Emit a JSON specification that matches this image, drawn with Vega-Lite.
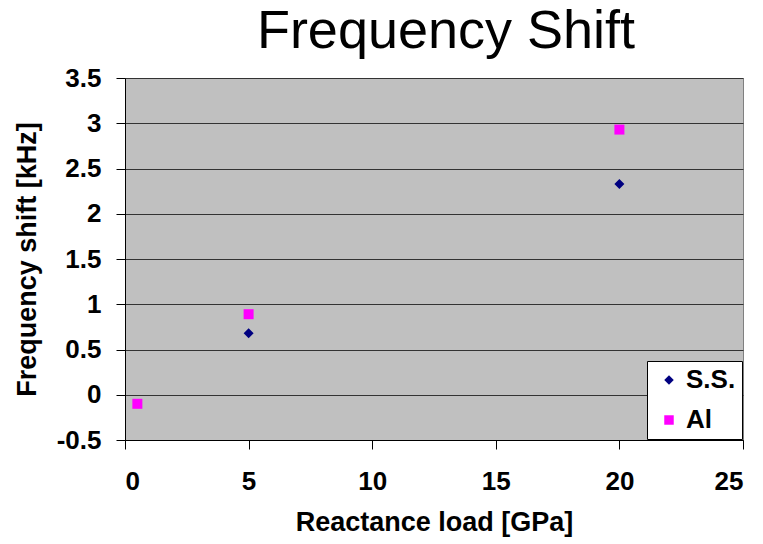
{
  "$schema": "https://vega.github.io/schema/vega-lite/v6.json",
  "width": 618,
  "height": 362,
  "autosize": {"type": "none"},
  "padding": {"left": 125, "top": 78, "right": 20, "bottom": 104},
  "background": "white",
  "title": {
    "text": "Frequency Shift",
    "font": "Liberation Sans",
    "fontSize": 54,
    "fontWeight": "normal",
    "color": "black",
    "anchor": "middle",
    "dx": 12,
    "offset": 6
  },
  "config": {
    "view": {"fill": "#C0C0C0", "stroke": "#808080", "strokeWidth": 1},
    "axis": {
      "labelFont": "Liberation Sans",
      "labelFontWeight": "bold",
      "labelFontSize": 26,
      "labelColor": "black",
      "titleFont": "Liberation Sans",
      "titleFontWeight": "bold",
      "titleFontSize": 27,
      "titleColor": "black",
      "domainColor": "black",
      "domainWidth": 1,
      "tickColor": "black",
      "tickSize": 9,
      "tickWidth": 1
    },
    "legend": {
      "labelFont": "Liberation Sans",
      "labelFontWeight": "bold",
      "labelFontSize": 26,
      "labelColor": "black"
    }
  },
  "data": {
    "values": [
      {"load": 5, "shift": 0.68, "material": "S.S."},
      {"load": 20, "shift": 2.33, "material": "S.S."},
      {"load": 0.5, "shift": -0.1, "material": "Al"},
      {"load": 5, "shift": 0.89, "material": "Al"},
      {"load": 20, "shift": 2.93, "material": "Al"}
    ]
  },
  "mark": {"type": "point", "filled": true, "opacity": 1, "size": 100, "strokeWidth": 0},
  "encoding": {
    "x": {
      "field": "load",
      "type": "quantitative",
      "title": "Reactance load [GPa]",
      "scale": {"domain": [0, 25], "nice": false, "zero": false},
      "axis": {
        "values": [0, 5, 10, 15, 20, 25],
        "grid": false,
        "labelPadding": 19,
        "titlePadding": 15,
        "labelExpr": "'' + datum.value"
      }
    },
    "y": {
      "field": "shift",
      "type": "quantitative",
      "title": "Frequency shift [kHz]",
      "scale": {"domain": [-0.5, 3.5], "nice": false, "zero": false},
      "axis": {
        "values": [-0.5, 0, 0.5, 1, 1.5, 2, 2.5, 3, 3.5],
        "grid": true,
        "gridColor": "#333333",
        "gridWidth": 1,
        "gridOpacity": 1,
        "labelPadding": 15,
        "titlePadding": 15,
        "labelExpr": "'' + datum.value"
      }
    },
    "color": {
      "field": "material",
      "type": "nominal",
      "scale": {"domain": ["S.S.", "Al"], "range": ["#000080", "#FF00FF"]},
      "legend": {
        "title": null,
        "orient": "bottom-right",
        "offset": 1,
        "fillColor": "white",
        "strokeColor": "black",
        "padding": 6,
        "rowPadding": 14,
        "symbolSize": 90,
        "symbolOffset": 3,
        "labelOffset": 4,
        "symbolStrokeWidth": 0
      }
    },
    "shape": {
      "field": "material",
      "type": "nominal",
      "scale": {"domain": ["S.S.", "Al"], "range": ["diamond", "square"]},
      "legend": null
    },
    "order": {"field": "material", "sort": "descending"}
  }
}
